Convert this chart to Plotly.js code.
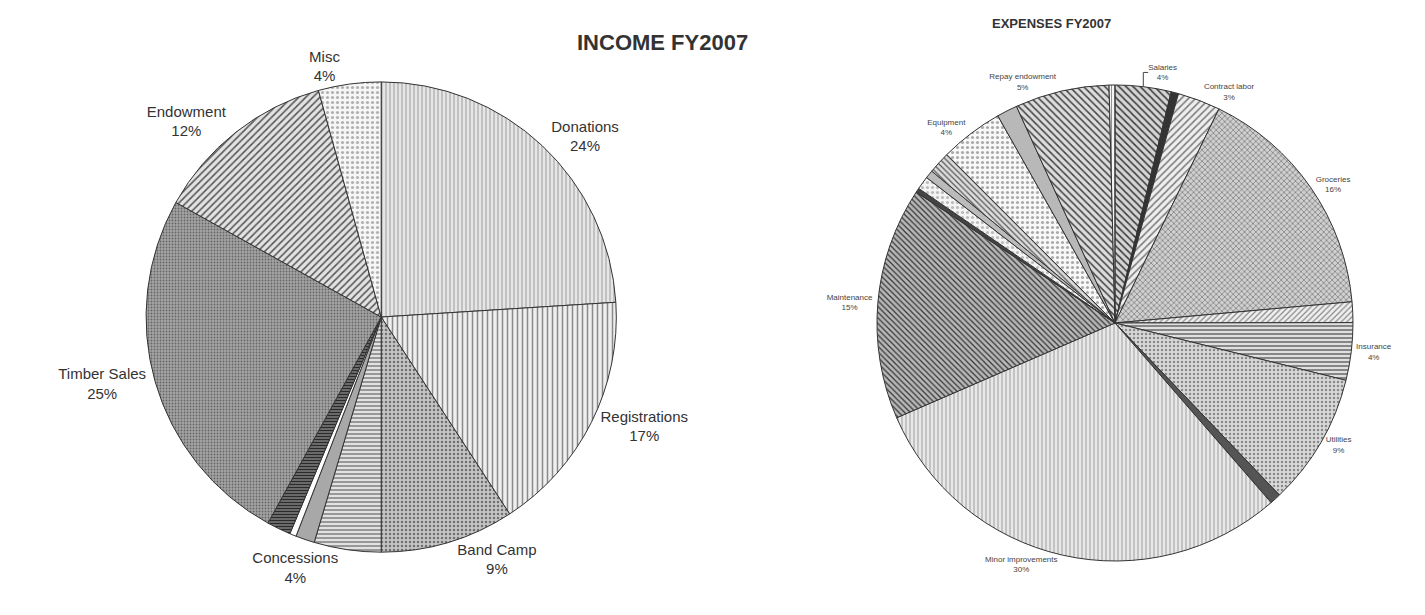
<!DOCTYPE html>
<html>
<head>
<meta charset="utf-8">
<script src="https://cdn.plot.ly/plotly-3.0.1.min.js"></script>
<style>html,body{margin:0;padding:0;background:#fff;}#chart{width:1425px;height:615px;}</style>
</head>
<body>
<div id="chart"></div>
<script>
// ---- Income FY2007 data (clockwise from 12 o'clock) ----
const incomeCategories = ['Donations', 'Registrations', 'Band Camp', 'Concessions', 'Other A', 'Other B', 'Other C', 'Timber Sales', 'Endowment', 'Misc'];
const incomeValues     = [24.0, 16.8, 9.2, 4.6, 1.3, 0.45, 1.65, 25.1, 12.6, 4.3];
const incomePctLabels  = ['24%', '17%', '9%', '4%', '', '', '', '25%', '12%', '4%'];

// ---- Expenses FY2007 data (clockwise from 12 o'clock) ----
const expenseCategories = ['Salaries', 'Other 1', 'Contract labor', 'Groceries', 'Other 2', 'Insurance', 'Utilities', 'Other 3',
  'Minor improvements', 'Maintenance', 'Other 4', 'Other 5', 'Other 6', 'Other 7', 'Equipment', 'Other 8', 'Repay endowment', 'Other 9'];
const expenseValues     = [3.8, 0.5, 2.9, 16.4, 1.4, 3.9, 9.0, 0.75, 29.9, 15.8, 0.3, 0.9, 0.55, 1.5, 4.3, 1.4, 6.4, 0.4];
const expensePctLabels  = ['4%', '', '3%', '16%', '', '4%', '9%', '', '30%', '15%', '', '', '', '', '4%', '', '5%', ''];
const expenseShownNames = ['Salaries', '', 'Contract labor', 'Groceries', '', 'Insurance', 'Utilities', '',
  'Minor improvements', 'Maintenance', '', '', '', '', 'Equipment', '', 'Repay endowment', ''];

// ---- styles (fills imitate the scanned hatch patterns) ----
const incomeBg     = ['#e6e6e6', '#eeeeee', '#c4c4c4', '#e2e2e2', '#a8a8a8', '#ffffff', '#6a6a6a', '#a4a4a4', '#e2e2e2', '#f6f6f6'];
const incomeShape  = ['|', '|', '.', '-', '', '', '-', '.', '/', '.'];
const incomeFg     = ['#a8a8a8', '#8a8a8a', '#707070', '#666666', '#a8a8a8', '#ffffff', '#222222', '#666666', '#555555', '#b0b0b0'];
const incomeSize   = [4, 5, 4, 4, 6, 6, 3, 3, 5, 5];

const expenseBg    = ['#d4d4d4', '#333333', '#eeeeee', '#d0d0d0', '#f0f0f0', '#e0e0e0', '#d8d8d8', '#555555',
  '#e8e8e8', '#b8b8b8', '#444444', '#f4f4f4', '#bbbbbb', '#dddddd', '#f8f8f8', '#b8b8b8', '#dcdcdc', '#f4f4f4'];
const expenseShape = ['\\', '', '/', 'x', '/', '-', '.', '', '|', '\\', '', '.', '', '\\', '.', '', '\\', '|'];
const expenseFg    = ['#3a3a3a', '#333333', '#7a7a7a', '#707070', '#888888', '#4a4a4a', '#8a8a8a', '#555555',
  '#aaaaaa', '#333333', '#444444', '#bbbbbb', '#bbbbbb', '#555555', '#aaaaaa', '#b8b8b8', '#444444', '#888888'];
const expenseSize  = [5, 6, 5, 4, 4, 4, 4, 6, 4, 4, 6, 5, 6, 4, 5, 6, 5, 3];

const incomeText = incomeCategories.map((c, i) => incomePctLabels[i] ? c + '<br>' + incomePctLabels[i] : '');
const incomePos = incomePctLabels.map(p => p ? 'outside' : 'none');
const expenseText = expenseShownNames.map((c, i) => expensePctLabels[i] ? c + '<br>' + expensePctLabels[i] : '');
const expensePos = expensePctLabels.map(p => p ? 'outside' : 'none');

const incomeTrace = {
  type: 'pie',
  labels: incomeCategories,
  values: incomeValues,
  text: incomeText,
  textinfo: 'text',
  textposition: incomePos,
  sort: false,
  direction: 'clockwise',
  rotation: 0,
  domain: {x: [0.1025, 0.4325], y: [0.102, 0.867]},
  outsidetextfont: {family: 'Liberation Sans, Arial, sans-serif', size: 15, color: '#333333'},
  marker: {
    colors: incomeBg,
    line: {color: '#333333', width: 1},
    pattern: {shape: incomeShape, fgcolor: incomeFg, bgcolor: incomeBg, size: incomeSize, solidity: 0.3, fillmode: 'replace'}
  },
  hoverinfo: 'label+percent',
  showlegend: false
};

const expenseTrace = {
  type: 'pie',
  labels: expenseCategories,
  values: expenseValues,
  text: expenseText,
  textinfo: 'text',
  textposition: expensePos,
  sort: false,
  direction: 'clockwise',
  rotation: 0,
  domain: {x: [0.6154, 0.9495], y: [0.0878, 0.8618]},
  outsidetextfont: {family: 'Liberation Sans, Arial, sans-serif', size: 8, color: '#444444'},
  marker: {
    colors: expenseBg,
    line: {color: '#333333', width: 1},
    pattern: {shape: expenseShape, fgcolor: expenseFg, bgcolor: expenseBg, size: expenseSize, solidity: 0.3, fillmode: 'replace'}
  },
  hoverinfo: 'label+percent',
  showlegend: false
};

const layout = {
  width: 1425,
  height: 615,
  margin: {l: 0, r: 0, t: 0, b: 0},
  paper_bgcolor: '#ffffff',
  showlegend: false,
  annotations: [
    {text: '<b>INCOME FY2007</b>', xref: 'paper', yref: 'paper', x: 0.465, y: 0.954, showarrow: false,
     font: {family: 'Liberation Sans, Arial, sans-serif', size: 22, color: '#333333'}},
    {text: '<b>EXPENSES FY2007</b>', xref: 'paper', yref: 'paper', x: 0.781, y: 0.977, showarrow: false,
     font: {family: 'Liberation Sans, Arial, sans-serif', size: 13, color: '#333333'}}
  ]
};

Plotly.newPlot('chart', [incomeTrace, expenseTrace], layout, {displayModeBar: false, staticPlot: true});
</script>
</body>
</html>
